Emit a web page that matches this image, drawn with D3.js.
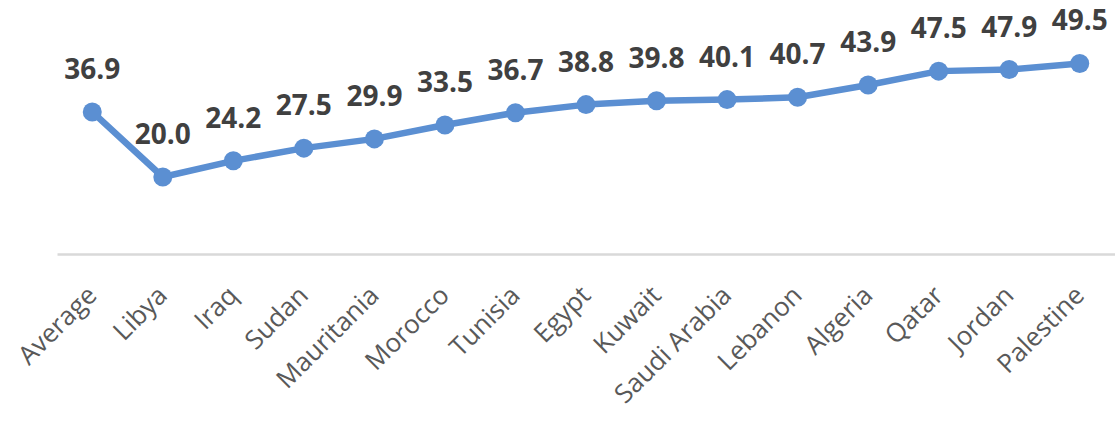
<!DOCTYPE html>
<html>
<head>
<meta charset="utf-8">
<script src="https://cdn.jsdelivr.net/npm/d3@7"></script>
<style>
  body { margin: 0; background: #fff; }
</style>
</head>
<body>
<div id="wrapper"></div>
<script>
// values per country, first entry is the regional average
const countries = ["Average", "Libya", "Iraq", "Sudan", "Mauritania", "Morocco", "Tunisia", "Egypt",
  "Kuwait", "Saudi Arabia", "Lebanon", "Algeria", "Qatar", "Jordan", "Palestine"]
const values = [36.9, 20.0, 24.2, 27.5, 29.9, 33.5, 36.7, 38.8, 39.8, 40.1, 40.7, 43.9, 47.5, 47.9, 49.5]
const yDomain = [0, 60]

async function drawLineChart() {
  const dataset = countries.map((c, i) => ({ country: c, value: values[i] }))
  const xAccessor = d => d.country
  const yAccessor = d => d.value

  let dimensions = {
    width: 1115,
    height: 421,
    margin: { top: 23, right: 0, bottom: 167, left: 57 },
  }
  dimensions.boundedWidth = dimensions.width - dimensions.margin.left - dimensions.margin.right
  dimensions.boundedHeight = dimensions.height - dimensions.margin.top - dimensions.margin.bottom

  const wrapper = d3.select("#wrapper")
    .append("svg")
      .attr("width", dimensions.width)
      .attr("height", dimensions.height)
  const bounds = wrapper.append("g")
      .attr("transform", `translate(${dimensions.margin.left},${dimensions.margin.top})`)

  const xScale = d3.scaleBand()
      .domain(countries)
      .range([0, dimensions.boundedWidth])
  const yScale = d3.scaleLinear()
      .domain(yDomain)
      .range([dimensions.boundedHeight, 0])
  const xPos = d => xScale(xAccessor(d)) + xScale.bandwidth() / 2
  const yPos = d => yScale(yAccessor(d))

  // baseline + category labels
  const xAxis = d3.axisBottom(xScale).tickSize(0).tickPadding(0)
  const xAxisGroup = bounds.append("g")
      .attr("transform", `translate(0,${dimensions.boundedHeight})`)
      .call(xAxis)
  xAxisGroup.select(".domain")
      .attr("stroke", "#d9d9d9")
      .attr("stroke-width", 2.5)
  xAxisGroup.selectAll(".tick text")
      .attr("fill", "#595959")
      .style("font-family", "'Open Sans', sans-serif")
      .style("font-size", "26px")
      .attr("text-anchor", "end")
      .attr("dy", 0)
      .attr("y", 0)
      .attr("transform", "translate(6,43) rotate(-45)")

  // the line
  const lineGenerator = d3.line()
      .x(xPos)
      .y(yPos)
  bounds.append("path")
      .attr("d", lineGenerator(dataset))
      .attr("fill", "none")
      .attr("stroke", "#5b8fd2")
      .attr("stroke-width", 6.5)
      .attr("stroke-linejoin", "round")

  bounds.selectAll(".dot")
    .data(dataset)
    .join("circle")
      .attr("class", "dot")
      .attr("cx", xPos)
      .attr("cy", yPos)
      .attr("r", 9.5)
      .attr("fill", "#5b8fd2")

  // value labels
  bounds.selectAll(".value-label")
    .data(dataset)
    .join("text")
      .attr("class", "value-label")
      .attr("x", xPos)
      .attr("y", d => yPos(d) - 33)
      .attr("text-anchor", "middle")
      .text(d => d3.format(".1f")(yAccessor(d)))
      .attr("fill", "#404040")
      .style("font-family", "'Open Sans', sans-serif")
      .style("font-weight", "bold")
      .style("font-size", "28px")
}
drawLineChart()
</script>
</body>
</html>
